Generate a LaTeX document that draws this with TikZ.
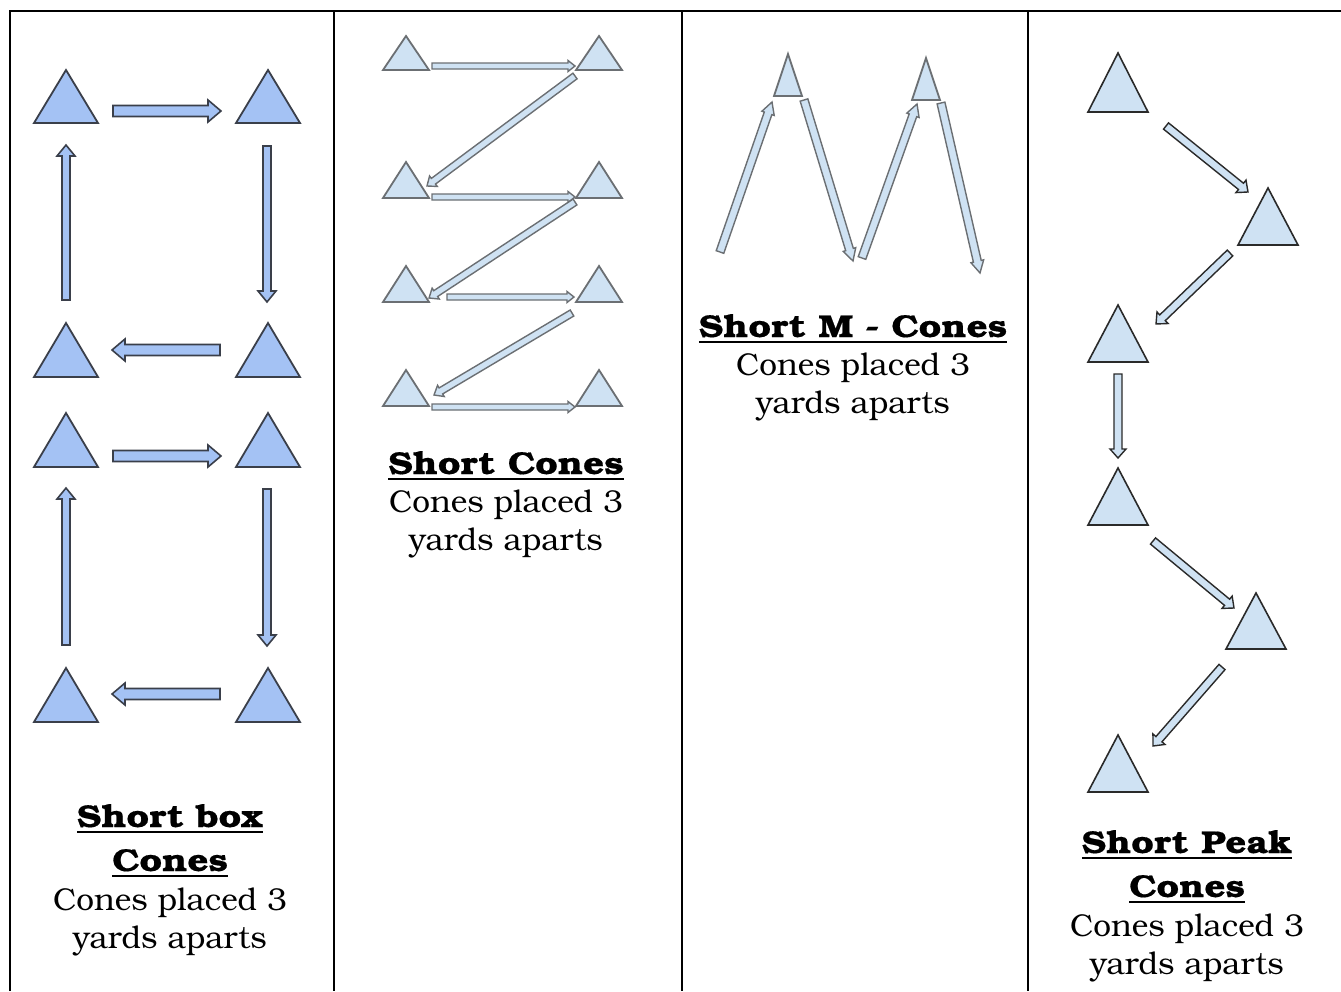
\documentclass[tikz,border=0pt]{standalone}
\usepackage{fontspec}
\setmainfont{texgyrebonum}[Extension=.otf, UprightFont=*-regular, BoldFont=*-bold, BoldFeatures={FakeStretch=1.17, FakeBold=0.5}]
\usetikzlibrary{calc}
\definecolor{boxfill}{HTML}{A4C2F4}
\definecolor{boxline}{HTML}{3A3F4A}
\definecolor{lightfill}{HTML}{CFE2F3}
\definecolor{lightline}{HTML}{6B6F73}
\definecolor{peakline}{HTML}{2A2A2A}
\tikzset{
  conebox/.style={draw=boxline, fill=boxfill, line width=1.8pt, line join=miter},
  conelight/.style={draw=lightline, fill=lightfill, line width=1.8pt},
  conepeak/.style={draw=peakline, fill=lightfill, line width=1.6pt},
  arrbox/.style={draw=boxline, fill=boxfill, line width=1.6pt},
  arrlight/.style={draw=lightline, fill=lightfill, line width=1.4pt},
  arrpeak/.style={draw=peakline, fill=lightfill, line width=1.4pt},
  rule/.style={line width=2pt, draw=black},
  title/.style={anchor=base, font=\fontsize{31.5}{38}\selectfont\bfseries},
  body/.style={anchor=base, font=\fontsize{31.5}{38}\selectfont},
}
\newcommand\myul[1]{\sbox0{#1}\rlap{\rule[-6pt]{\wd0}{2pt}}\usebox0}
% cone: #1 style, #2 name, #3 apex x, #4 apex y, #5 half width, #6 base y
\newcommand\cone[6]{%
  \coordinate (#2) at (#3,#4);
  \draw[#1] (#2) -- ++(#5,{#6-#4}) -- ++({-2*#5},0) -- cycle;}
% block arrow: #1 style, #2 from, #3 to, #4 shaft half, #5 head half, #6 head length
\newcommand\barrow[6]{%
  \path let \p1=(#2), \p2=(#3), \n1={atan2(\y2-\y1,\x2-\x1)}, \n2={veclen(\x2-\x1,\y2-\y1)}
    in \pgfextra{\xdef\myang{\n1}\xdef\mylen{\n2}};
  \draw[#1, shift={(#2)}, rotate=\myang]
    (0,#4) -- ({\mylen-#6},#4) -- ({\mylen-#6},#5) -- (\mylen,0)
    -- ({\mylen-#6},-#5) -- ({\mylen-#6},-#4) -- (0,-#4) -- cycle;}
\begin{document}
\begin{tikzpicture}[x=1pt,y=-1pt]
\useasboundingbox (0,0) rectangle (1341,991);
% table rules
\coordinate (tl) at (10,11);
\coordinate (tr) at (1341,11);
\coordinate (bl) at (10,991);
\draw[rule] (bl) -- (tl) -- (tr);
\foreach \x/\n in {334/v1,682/v2,1028/v3}{
  \coordinate (\n t) at (\x,11);
  \coordinate (\n b) at (\x,991);
  \draw[rule] (\n t) -- (\n b);
}
%% Panel 1: short box
\cone{conebox}{a1}{66}{70}{32}{123}
\cone{conebox}{a2}{268}{70}{32}{123}
\cone{conebox}{a3}{66}{323}{32}{377}
\cone{conebox}{a4}{268}{323}{32}{377}
\cone{conebox}{a5}{66}{413}{32}{467}
\cone{conebox}{a6}{268}{413}{32}{467}
\cone{conebox}{a7}{66}{668}{32}{722}
\cone{conebox}{a8}{268}{668}{32}{722}
\coordinate (p1s) at (113,111); \coordinate (p1e) at (221,111);
\coordinate (p2s) at (267,146); \coordinate (p2e) at (267,302);
\coordinate (p3s) at (220,350); \coordinate (p3e) at (112,350);
\coordinate (p4s) at (66,300);  \coordinate (p4e) at (66,145);
\coordinate (p5s) at (113,456); \coordinate (p5e) at (221,456);
\coordinate (p6s) at (267,489); \coordinate (p6e) at (267,646);
\coordinate (p7s) at (220,694); \coordinate (p7e) at (112,694);
\coordinate (p8s) at (66,645);  \coordinate (p8e) at (66,488);
\barrow{arrbox}{p1s}{p1e}{5.5}{11}{13}
\barrow{arrbox}{p2s}{p2e}{4}{9}{11}
\barrow{arrbox}{p3s}{p3e}{5.5}{11}{13}
\barrow{arrbox}{p4s}{p4e}{4}{9}{11}
\barrow{arrbox}{p5s}{p5e}{5.5}{11}{13}
\barrow{arrbox}{p6s}{p6e}{4}{9}{11}
\barrow{arrbox}{p7s}{p7e}{5.5}{11}{13}
\barrow{arrbox}{p8s}{p8e}{4}{9}{11}
\node[title] (t1a) at (170,827) {\myul{Short box}};
\node[title] (t1b) at (170,871) {\myul{Cones}};
\node[body]  (t1c) at (170,910) {Cones placed 3};
\node[body]  (t1d) at (170,948) {yards aparts};
%% Panel 2: short cones
\cone{conelight}{b1}{406}{36}{23}{70}
\cone{conelight}{b2}{599}{36}{23}{70}
\cone{conelight}{b3}{406}{162}{23}{198}
\cone{conelight}{b4}{599}{162}{23}{198}
\cone{conelight}{b5}{406}{266}{23}{302}
\cone{conelight}{b6}{599}{266}{23}{302}
\cone{conelight}{b7}{406}{370}{23}{406}
\cone{conelight}{b8}{599}{370}{23}{406}
\coordinate (q1s) at (432,66);  \coordinate (q1e) at (575,66);
\coordinate (q2s) at (575,76);  \coordinate (q2e) at (427,186);
\coordinate (q3s) at (432,197); \coordinate (q3e) at (575,197);
\coordinate (q4s) at (575,202); \coordinate (q4e) at (429,298);
\coordinate (q5s) at (447,297); \coordinate (q5e) at (574,297);
\coordinate (q6s) at (572,313); \coordinate (q6e) at (434,395);
\coordinate (q7s) at (432,407); \coordinate (q7e) at (575,407);
\barrow{arrlight}{q1s}{q1e}{3}{5.5}{7}
\barrow{arrlight}{q2s}{q2e}{3.5}{6.5}{8}
\barrow{arrlight}{q3s}{q3e}{3}{5.5}{7}
\barrow{arrlight}{q4s}{q4e}{3.5}{6.5}{8}
\barrow{arrlight}{q5s}{q5e}{3}{5.5}{7}
\barrow{arrlight}{q6s}{q6e}{3.5}{6.5}{8}
\barrow{arrlight}{q7s}{q7e}{3}{5.5}{7}
\node[title] (t2a) at (506,474) {\myul{Short Cones}};
\node[body]  (t2b) at (506,512) {Cones placed 3};
\node[body]  (t2c) at (506,550) {yards aparts};
%% Panel 3: short M
\cone{conelight}{c1}{788}{54}{14}{96}
\cone{conelight}{c2}{926}{58}{14}{100}
\coordinate (m1s) at (720,252); \coordinate (m1e) at (772,102);
\coordinate (m2s) at (804,100); \coordinate (m2e) at (853,261);
\coordinate (m3s) at (862,258); \coordinate (m3e) at (917,104);
\coordinate (m4s) at (941,103); \coordinate (m4e) at (980,273);
\barrow{arrlight}{m1s}{m1e}{4}{6.5}{12}
\barrow{arrlight}{m2s}{m2e}{4}{6.5}{12}
\barrow{arrlight}{m3s}{m3e}{4}{6.5}{12}
\barrow{arrlight}{m4s}{m4e}{4}{6.5}{12}
\node[title] (t3a) at (853,337) {\myul{Short M - Cones}};
\node[body]  (t3b) at (853,375) {Cones placed 3};
\node[body]  (t3c) at (853,413) {yards aparts};
%% Panel 4: short peak
\cone{conepeak}{d1}{1118}{53}{30}{112}
\cone{conepeak}{d2}{1268}{188}{30}{245}
\cone{conepeak}{d3}{1118}{305}{30}{362}
\cone{conepeak}{d4}{1118}{468}{30}{525}
\cone{conepeak}{d5}{1256}{593}{30}{649}
\cone{conepeak}{d6}{1118}{735}{30}{792}
\coordinate (k1s) at (1166,126); \coordinate (k1e) at (1248,192);
\coordinate (k2s) at (1230,253); \coordinate (k2e) at (1156,324);
\coordinate (k3s) at (1118,374); \coordinate (k3e) at (1118,458);
\coordinate (k4s) at (1153,541); \coordinate (k4e) at (1234,608);
\coordinate (k5s) at (1222,667); \coordinate (k5e) at (1153,746);
\barrow{arrpeak}{k1s}{k1e}{4}{8}{9}
\barrow{arrpeak}{k2s}{k2e}{4}{8}{9}
\barrow{arrpeak}{k3s}{k3e}{4}{8}{9}
\barrow{arrpeak}{k4s}{k4e}{4}{8}{9}
\barrow{arrpeak}{k5s}{k5e}{4}{8}{9}
\node[title] (t4a) at (1187,853) {\myul{Short Peak}};
\node[title] (t4b) at (1187,897) {\myul{Cones}};
\node[body]  (t4c) at (1187,936) {Cones placed 3};
\node[body]  (t4d) at (1187,974) {yards aparts};
\end{tikzpicture}
\end{document}
